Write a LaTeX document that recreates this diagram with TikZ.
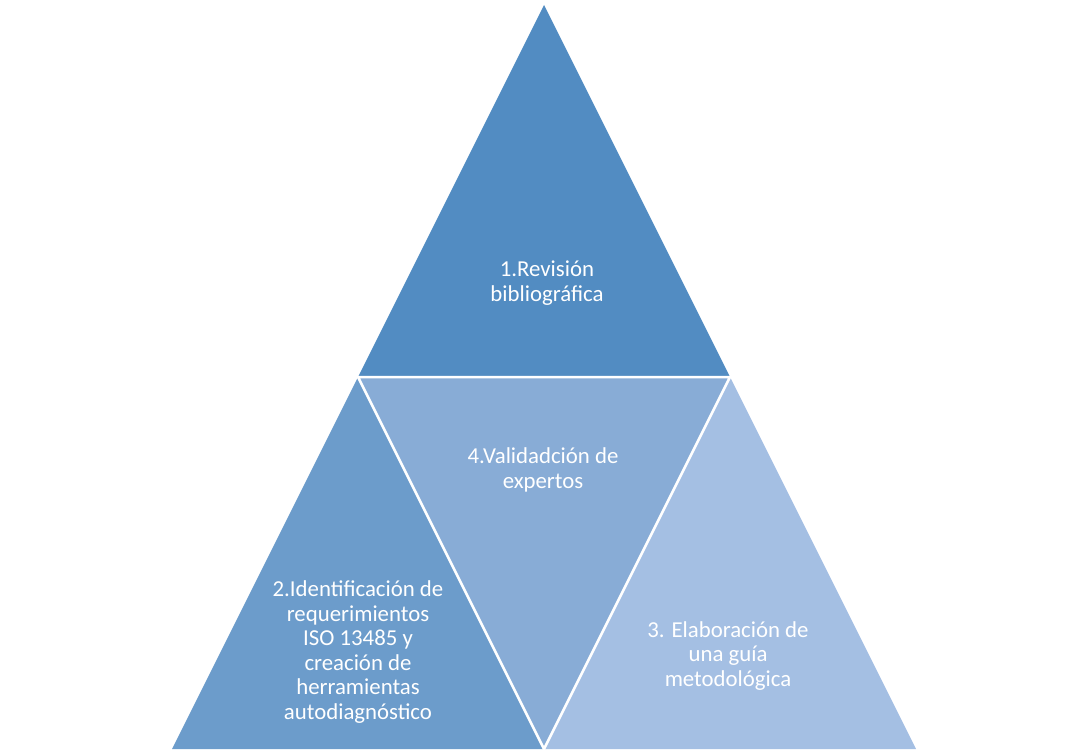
\documentclass[tikz,border=0pt]{standalone}
\usepackage{fontspec}
\setmainfont{Carlito}
\begin{document}
\begin{tikzpicture}[x=1pt,y=-1pt,
  tri/.style={draw=white,line width=2.5pt,line join=miter},
  lbl/.style={text=white,align=center,font=\fontsize{22.8pt}{24.5pt}\selectfont}]
\definecolor{ctop}{RGB}{82,140,194}
\definecolor{cleft}{RGB}{108,156,203}
\definecolor{cmid}{RGB}{136,172,214}
\definecolor{cright}{RGB}{164,191,227}
\useasboundingbox (0,0) rectangle (1089,754);
\coordinate (A) at (544,5);
\coordinate (BL) at (172,749);
\coordinate (BR) at (916,749);
\coordinate (ML) at (358,377);
\coordinate (MR) at (730,377);
\coordinate (MB) at (544,749);
\fill[ctop] (A) -- (MR) -- (ML) -- cycle;
\fill[cleft] (ML) -- (MB) -- (BL) -- cycle;
\fill[cright] (MR) -- (BR) -- (MB) -- cycle;
\fill[cmid] (ML) -- (MR) -- (MB) -- cycle;
\draw[tri] (ML) -- (MR) -- (MB) -- cycle;
\node[lbl] (t1) at (547,283) {1.Revisión\\bibliográfica};
\node[lbl] (t4) at (543,470) {4.Validadción de\\expertos};
\node[lbl] (t2) at (358,652) {2.Identificación de\\requerimientos\\ISO 13485 y\\creación de\\herramientas\\autodiagnóstico};
\node[lbl] (t3) at (728,656) {3. Elaboración de\\una guía\\metodológica};
\end{tikzpicture}
\end{document}
